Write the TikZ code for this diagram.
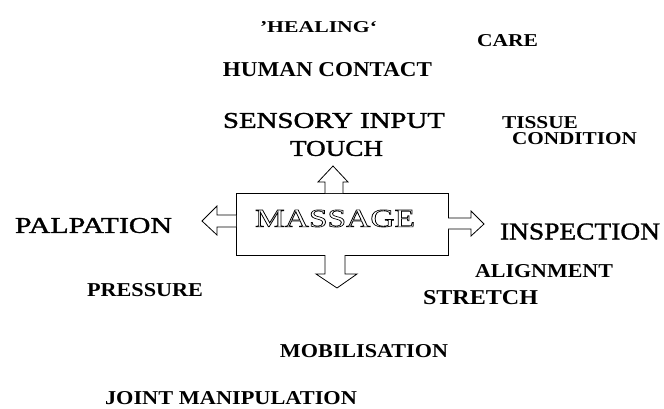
\documentclass[tikz,border=0pt]{standalone}
\usepackage{fontspec}
\setmainfont{Liberation Serif}
\usepackage{graphicx}
\newcommand{\fitlab}[3]{\resizebox{#1pt}{#2pt}{\fontsize{20}{20}\selectfont #3}}
\newcommand{\heavylab}[3]{\special{pdf:literal direct 2 Tr 0.25 w}\fitlab{#1}{#2}{#3}\special{pdf:literal direct 0 Tr}}
\begin{document}
\begin{tikzpicture}[x=1pt,y=-1pt,
  lab/.style={inner sep=0pt, outer sep=0pt, anchor=center},
  arr/.style={draw=black, line width=0.8pt, fill=white, line join=miter},
  boxstyle/.style={draw=black, line width=0.8pt, minimum width=212pt, minimum height=62pt, inner sep=0pt}]
\useasboundingbox (0,0) rectangle (664,408);
\node[boxstyle] (box) at (342,224) {};
% block arrows
\draw[arr] (325,193) -- (325,182) -- (318,182) -- (333,166) -- (348,182) -- (343,182) -- (343,193);
\draw[arr] (325,255) -- (325,274) -- (316,274) -- (337,288) -- (357,274) -- (345,274) -- (345,255);
\draw[arr] (236,215) -- (217,215) -- (217,206) -- (202,221) -- (217,235) -- (217,227) -- (236,227);
\draw[arr] (448,218) -- (471,218) -- (471,211) -- (484,224) -- (471,236) -- (471,229) -- (448,229);
% labels
\node[lab] (healing) at (318.5,27) {\fitlab{117}{11}{\bfseries ’HEALING‘}};
\node[lab] (care) at (507.5,41) {\fitlab{61}{12}{\bfseries CARE}};
\node[lab] (human) at (327.5,70) {\fitlab{209}{14}{\bfseries HUMAN CONTACT}};
\node[lab] (sensory) at (334,120.5) {\heavylab{222}{15}{SENSORY INPUT}};
\node[lab] (touch) at (336.5,148.5) {\heavylab{93}{15}{TOUCH}};
\node[lab] (tissue) at (540,122.5) {\fitlab{76}{12}{\bfseries TISSUE}};
\node[lab] (condition) at (574.5,139) {\fitlab{125}{12}{\bfseries CONDITION}};
\node[lab] (palpation) at (93.5,225.5) {\heavylab{157}{15}{PALPATION}};
\node[lab] (inspection) at (580,231.5) {\heavylab{160}{16}{INSPECTION}};
\node[lab] (alignment) at (544,271.5) {\fitlab{138}{13}{\bfseries ALIGNMENT}};
\node[lab] (pressure) at (145,290.5) {\fitlab{116}{13}{\bfseries PRESSURE}};
\node[lab] (stretch) at (480.5,298) {\fitlab{115}{14}{\bfseries STRETCH}};
\node[lab] (mobil) at (364,351.5) {\fitlab{168}{13}{\bfseries MOBILISATION}};
\node[lab] (joint) at (231,398.5) {\fitlab{252}{13}{\bfseries JOINT MANIPULATION}};
\node[lab] (massage) at (335,218.5) {\special{pdf:literal direct 1 Tr 0.5 w}\fitlab{160}{17}{MASSAGE}\special{pdf:literal direct 0 Tr}};
\end{tikzpicture}
\end{document}
